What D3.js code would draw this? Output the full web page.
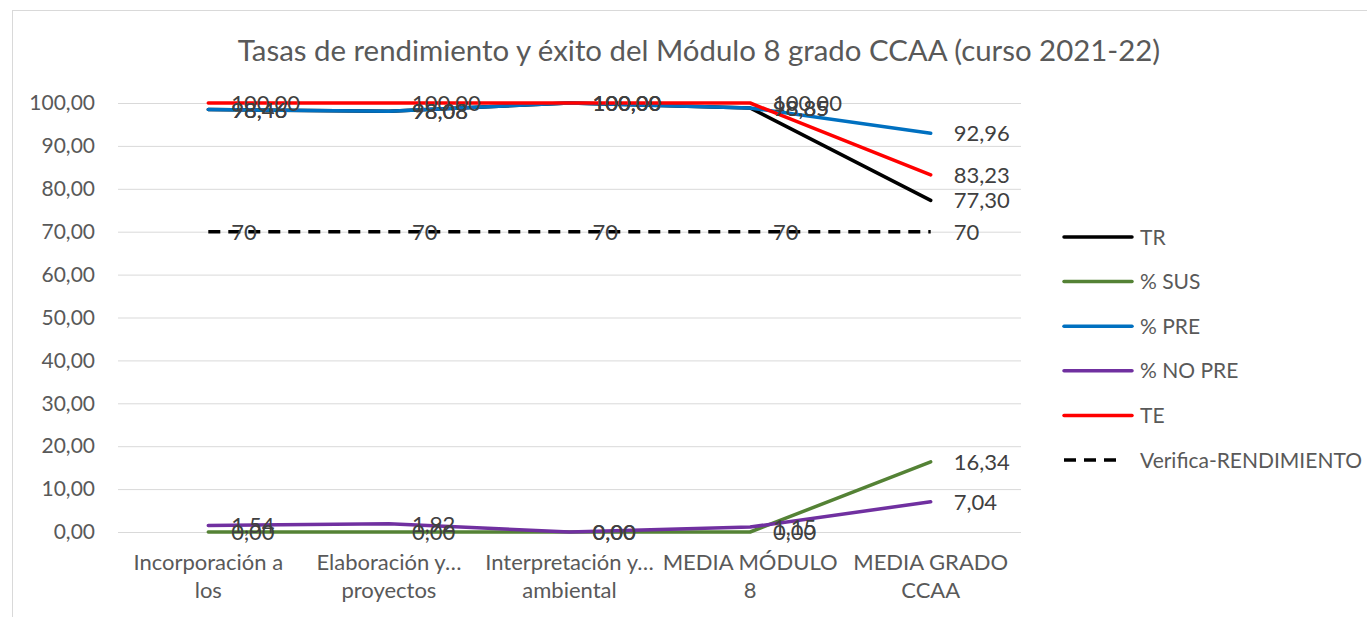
<!DOCTYPE html>
<html>
<head>
<meta charset="utf-8">
<script src="https://cdn.jsdelivr.net/npm/d3@7"></script>
<style>
  body { margin: 0; background: #fff; }
  text { font-family: Lato, "Open Sans", sans-serif; }
</style>
</head>
<body>
<div id="chart"></div>
<script>
// categories (two lines each, as drawn on the axis)
var categories = [
    'Incorporación a\nlos',
    'Elaboración y…\nproyectos',
    'Interpretación y…\nambiental',
    'MEDIA MÓDULO\n8',
    'MEDIA GRADO\nCCAA'
]
var seriesNames = ['TR', '% SUS', '% PRE', '% NO PRE', 'TE', 'Verifica-RENDIMIENTO']
var trValues = [98.46, 98.08, 100, 98.85, 77.30]
var susValues = [0, 0, 0, 0, 16.34]
var preValues = [98.46, 98.08, 100, 98.85, 92.96]
var noPreValues = [1.54, 1.92, 0, 1.15, 7.04]
var teValues = [100, 100, 100, 100, 83.23]
var verificaValues = [70, 70, 70, 70, 70]
var yTicks = [0, 10, 20, 30, 40, 50, 60, 70, 80, 90, 100]

var scheme = {
    black: '#000000',
    green: '#548235',
    blue: '#0070c0',
    purple: '#7030a0',
    red: '#ff0000'
}

var series = [
    {name: seriesNames[0], values: trValues, color: scheme.black, fmt: 'dec'},
    {name: seriesNames[1], values: susValues, color: scheme.green, fmt: 'dec'},
    {name: seriesNames[2], values: preValues, color: scheme.blue, fmt: 'dec'},
    {name: seriesNames[3], values: noPreValues, color: scheme.purple, fmt: 'dec'},
    {name: seriesNames[4], values: teValues, color: scheme.red, fmt: 'dec'},
    {name: seriesNames[5], values: verificaValues, color: scheme.black, fmt: 'int', dash: '12,8'}
]

var width = 1367
var height = 617
var plot = {left: 118, right: 1021, top: 103, bottom: 532}

var comma = v => d3.format('.2f')(v).replace('.', ',')

var svg = d3.select('#chart')
    .append('svg')
    .attr('width', width)
    .attr('height', height)

// chart frame (right and bottom edges sit outside the picture)
svg.append('rect')
    .attr('x', 12.5)
    .attr('y', 10.5)
    .attr('width', 1400)
    .attr('height', 700)
    .attr('fill', 'none')
    .attr('stroke', '#d9d9d9')

svg.append('text')
    .attr('x', 699)
    .attr('y', 61)
    .attr('text-anchor', 'middle')
    .attr('font-size', 29.4)
    .attr('fill', '#595959')
    .text('Tasas de rendimiento y éxito del Módulo 8 grado CCAA (curso 2021-22)')

var x = d3.scaleBand()
    .domain(categories)
    .range([plot.left, plot.right])

var y = d3.scaleLinear()
    .domain([0, 100])
    .range([plot.bottom, plot.top])

var cx = d => x(d) + x.bandwidth() / 2

// gridlines + y labels
var yAxis = svg.append('g')
    .attr('transform', `translate(${plot.left},0)`)
    .call(d3.axisLeft(y)
        .tickValues(yTicks)
        .tickSize(-(plot.right - plot.left))
        .tickPadding(23)
        .tickFormat(comma))
yAxis.select('.domain').remove()
yAxis.selectAll('line').attr('stroke', '#d9d9d9')
yAxis.selectAll('text')
    .attr('font-size', 21)
    .attr('fill', '#595959')
    .attr('font-family', 'Lato')

// x axis line
svg.append('line')
    .attr('x1', plot.left)
    .attr('x2', plot.right)
    .attr('y1', plot.bottom + 0.5)
    .attr('y2', plot.bottom + 0.5)
    .attr('stroke', '#d9d9d9')

// category labels
categories.forEach(c => {
    var t = svg.append('text')
        .attr('text-anchor', 'middle')
        .attr('font-size', 22)
        .attr('fill', '#595959')
    c.split('\n').forEach((line, i) => {
        t.append('tspan')
            .attr('x', cx(c))
            .attr('y', 570 + i * 28)
            .text(line)
    })
})

var line = d3.line()
    .x((d, i) => cx(categories[i]))
    .y(d => y(d))

series.forEach(s => {
    svg.append('path')
        .datum(s.values)
        .attr('d', line)
        .attr('fill', 'none')
        .attr('stroke', s.color)
        .attr('stroke-width', 3.5)
        .attr('stroke-linejoin', 'round')
        .attr('stroke-linecap', s.dash ? 'butt' : 'round')
        .attr('stroke-dasharray', s.dash || null)
})

// data labels, right of each point
series.forEach(s => {
    svg.append('g')
        .selectAll('text')
        .data(s.values)
        .enter()
        .append('text')
        .attr('x', (d, i) => cx(categories[i]) + 23)
        .attr('y', d => y(d))
        .attr('dy', '0.36em')
        .attr('font-size', 22)
        .attr('fill', '#404040')
        .text(d => s.fmt === 'int' ? d3.format('d')(d) : comma(d))
})

// legend
var legend = svg.append('g')
series.forEach((s, i) => {
    var ly = 237 + i * 44.6
    legend.append('line')
        .attr('x1', 1064)
        .attr('x2', s.dash ? 1120 : 1132)
        .attr('y1', ly)
        .attr('y2', ly)
        .attr('stroke', s.color)
        .attr('stroke-width', 3.5)
        .attr('stroke-linecap', s.dash ? 'butt' : 'round')
        .attr('stroke-dasharray', s.dash || null)
    legend.append('text')
        .attr('x', 1140)
        .attr('y', ly)
        .attr('dy', '0.36em')
        .attr('font-size', 21)
        .attr('fill', '#595959')
        .text(s.name)
})
</script>
</body>
</html>
